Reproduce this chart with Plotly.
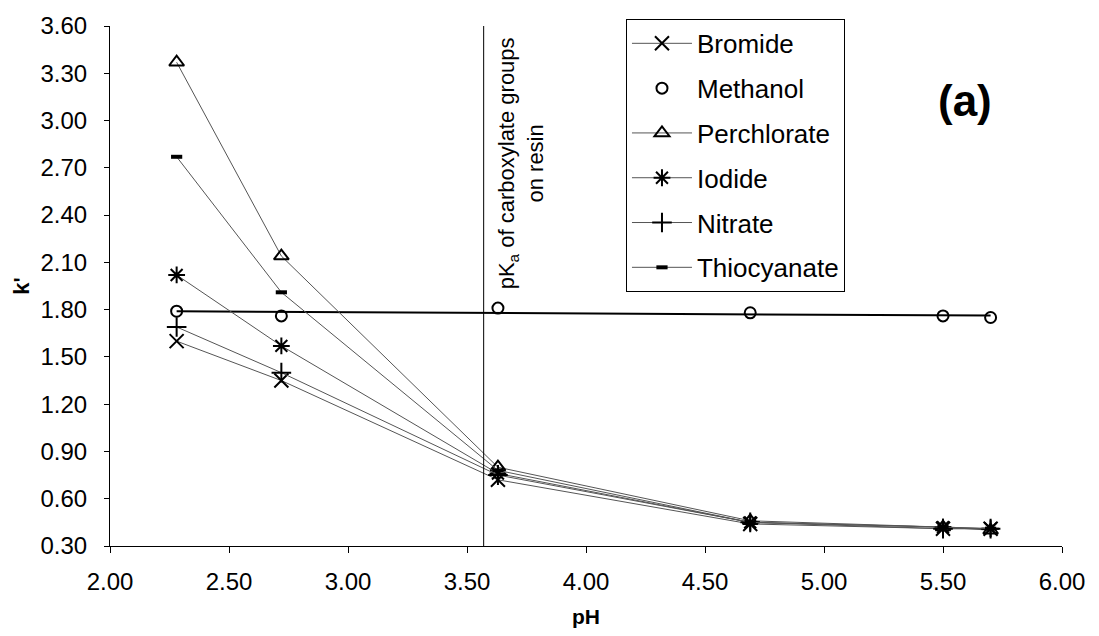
import numpy as np
import plotly.graph_objects as go

# ---- data ----
pH = [2.28, 2.72, 3.63, 4.69, 5.50, 5.70]
bromide = [1.60, 1.35, 0.72, 0.44, 0.41, 0.41]
methanol = [1.79, 1.76, 1.81, 1.78, 1.76, 1.75]
perchlorate = [3.37, 2.14, 0.80, 0.46, 0.42, 0.40]
iodide = [2.02, 1.57, 0.76, 0.45, 0.42, 0.41]
nitrate = [1.69, 1.40, 0.75, 0.45, 0.41, 0.41]
thiocyanate = [2.77, 1.91, 0.78, 0.45, 0.42, 0.41]
pKa = 3.57

x_ticks = [2.0, 2.5, 3.0, 3.5, 4.0, 4.5, 5.0, 5.5, 6.0]
y_ticks = [0.3, 0.6, 0.9, 1.2, 1.5, 1.8, 2.1, 2.4, 2.7, 3.0, 3.3, 3.6]

FONT = "Liberation Sans, Arial, sans-serif"
LINE_COL = "#555555"

fig = go.Figure()

series = [
    ("Bromide", bromide, "x-thin-open", 14, 2, "lines+markers"),
    ("Methanol", methanol, "circle-open", 11, 2, "markers"),
    ("Perchlorate", perchlorate, "triangle-up-open", 13, 2, "lines+markers"),
    ("Iodide", iodide, "asterisk-open", 14, 2, "lines+markers"),
    ("Nitrate", nitrate, "cross-thin-open", 14, 2, "lines+markers"),
    ("Thiocyanate", thiocyanate, "line-ew-open", 8, 4, "lines+markers"),
]

# methanol trend line (linear fit of methanol data)
coef = np.polyfit(pH, methanol, 1)
trend_x = [pH[0], pH[-1]]
trend_y = list(np.polyval(coef, trend_x))
fig.add_trace(go.Scatter(x=trend_x, y=trend_y, mode="lines",
                         line=dict(color="black", width=2),
                         showlegend=False, hoverinfo="skip"))

for name, vals, sym, size, lw, mode in series:
    fig.add_trace(go.Scatter(
        x=pH, y=vals, name=name, mode=mode,
        legendgroup=name,
        line=dict(color=LINE_COL, width=1),
        marker=dict(symbol=sym, size=size, color="black",
                    line=dict(color="black", width=lw)),
    ))

fig.add_shape(type="line", xref="x", yref="paper", x0=pKa, x1=pKa, y0=0, y1=1,
              line=dict(color="black", width=1))

fig.add_annotation(x=3.728, y=2.73, xref="x", yref="y",
                   text="pK<sub>a</sub> of carboxylate groups<br>on resin",
                   textangle=-90, showarrow=False,
                   font=dict(family=FONT, size=22, color="black"),
                   align="center", xanchor="center", yanchor="middle")

fig.add_annotation(x=0.898, y=0.857, xref="paper", yref="paper",
                   text="<b>(a)</b>", showarrow=False,
                   font=dict(family=FONT, size=44, color="black"),
                   xanchor="center", yanchor="middle")

fig.update_layout(
    width=1099, height=636,
    margin=dict(l=110, r=37, t=26, b=90),
    plot_bgcolor="white", paper_bgcolor="white",
    font=dict(family=FONT, size=22, color="black"),
    legend=dict(x=0.542, y=1.0136, xanchor="left", yanchor="top",
                bordercolor="black", borderwidth=1, bgcolor="white",
                font=dict(family=FONT, size=26, color="black"),
                traceorder="grouped", tracegroupgap=8, itemwidth=60),
    xaxis=dict(range=[2, 6], tickvals=x_ticks,
               ticktext=[f"{v:.2f}" for v in x_ticks],
               showline=True, linecolor="black", linewidth=1,
               ticks="outside", ticklen=6, tickcolor="black",
               ticklabelstandoff=8,
               showgrid=False, zeroline=False,
               tickfont=dict(family=FONT, size=24),
               title=dict(text="<b>pH</b>", standoff=15,
                          font=dict(family=FONT, size=21))),
    yaxis=dict(range=[0.3, 3.6], tickvals=y_ticks,
               ticktext=[f"{v:.2f}" for v in y_ticks],
               showline=True, linecolor="black", linewidth=1,
               ticks="outside", ticklen=5, tickcolor="black",
               ticklabelstandoff=12,
               showgrid=False, zeroline=False,
               tickfont=dict(family=FONT, size=24),
               title=dict(text="<b>k'</b>", standoff=4,
                          font=dict(family=FONT, size=22))),
)

fig.write_html("out.html",
               config={"displayModeBar": False},
               post_script="document.body.style.margin='0px';"
                           "document.body.style.overflow='hidden';")
